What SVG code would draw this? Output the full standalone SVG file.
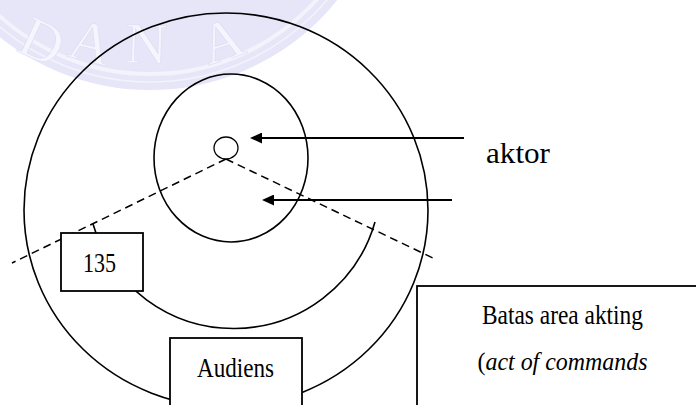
<svg xmlns="http://www.w3.org/2000/svg" width="696" height="405" viewBox="0 0 696 405">
<style>
.ln{fill:none;stroke:#000;stroke-width:1.6}
.dash{fill:none;stroke:#000;stroke-width:1.5;stroke-dasharray:8 5}
.arr{fill:none;stroke:#000;stroke-width:2.2}
.box{fill:#fff;stroke:#000;stroke-width:1.8}
.t{font-family:"Liberation Serif","Times New Roman",serif;fill:#000}
.c{text-anchor:middle}
.wm{font-family:"Liberation Serif","Times New Roman",serif;font-size:58px;fill:#f5f5fd;stroke:#dcdcf3;stroke-width:0.6;text-anchor:middle}
</style>
<defs>
<marker id="ah" markerUnits="userSpaceOnUse" markerWidth="12" markerHeight="11" refX="10" refY="5.5" orient="auto"><path d="M0,0 L12,5.5 L0,11 z" fill="#000"/></marker>
</defs>
<rect width="696" height="405" fill="#fff"/>
<g id="watermark">
<circle cx="150" cy="-150" r="240" fill="#e6e6f8"/>
<circle cx="150" cy="-150" r="224" fill="none" stroke="#f3f3fc" stroke-width="4"/>
<circle cx="150" cy="-150" r="232" fill="none" stroke="#f3f3fc" stroke-width="1.5"/>
<text class="wm" transform="translate(34,59) rotate(25)">D</text>
<text class="wm" transform="translate(86,61) rotate(14)">A</text>
<text class="wm" transform="translate(146,63) rotate(1.5)">N</text>
<text class="wm" transform="translate(228,59) rotate(-18)">A</text>
</g>
<g id="arena"><ellipse cx="226" cy="210" rx="202" ry="197" class="ln"/></g>
<g id="area-akting"><ellipse cx="231" cy="158" rx="77" ry="84" class="ln"/></g>
<g id="connectors">
<line x1="226" y1="159" x2="12" y2="263" class="dash"/>
<line x1="226" y1="159" x2="435" y2="259" class="dash"/>
<path d="M375 222 A147 147 0 0 1 93 224" class="ln"/>
<line x1="464" y1="138" x2="252" y2="138" class="arr" marker-end="url(#ah)"/>
<line x1="452" y1="200" x2="264" y2="200" class="arr" marker-end="url(#ah)"/>
</g>
<g id="aktor"><ellipse cx="226" cy="148" rx="12" ry="11" fill="#fff" stroke="#000" stroke-width="1.3"/></g>
<g id="label-aktor"><text class="t" x="486" y="163" font-size="29" textLength="64" lengthAdjust="spacingAndGlyphs">aktor</text></g>
<g id="sudut-135">
<rect x="61" y="233" width="82" height="58" class="box"/>
<text class="t c" x="99.5" y="272" font-size="28" textLength="33" lengthAdjust="spacingAndGlyphs">135</text>
</g>
<g id="audiens">
<rect x="170" y="338" width="132" height="80" class="box"/>
<text class="t c" x="235.5" y="377" font-size="28" textLength="77" lengthAdjust="spacingAndGlyphs">Audiens</text>
</g>
<g id="batas-area">
<rect x="417" y="286" width="300" height="140" class="box"/>
<text class="t c" x="562.5" y="324" font-size="28" textLength="161" lengthAdjust="spacingAndGlyphs">Batas area akting</text>
<text class="t c" x="562.5" y="370" font-size="26" textLength="170" lengthAdjust="spacingAndGlyphs">(<tspan font-style="italic">act of commands</tspan></text>
</g>
</svg>
